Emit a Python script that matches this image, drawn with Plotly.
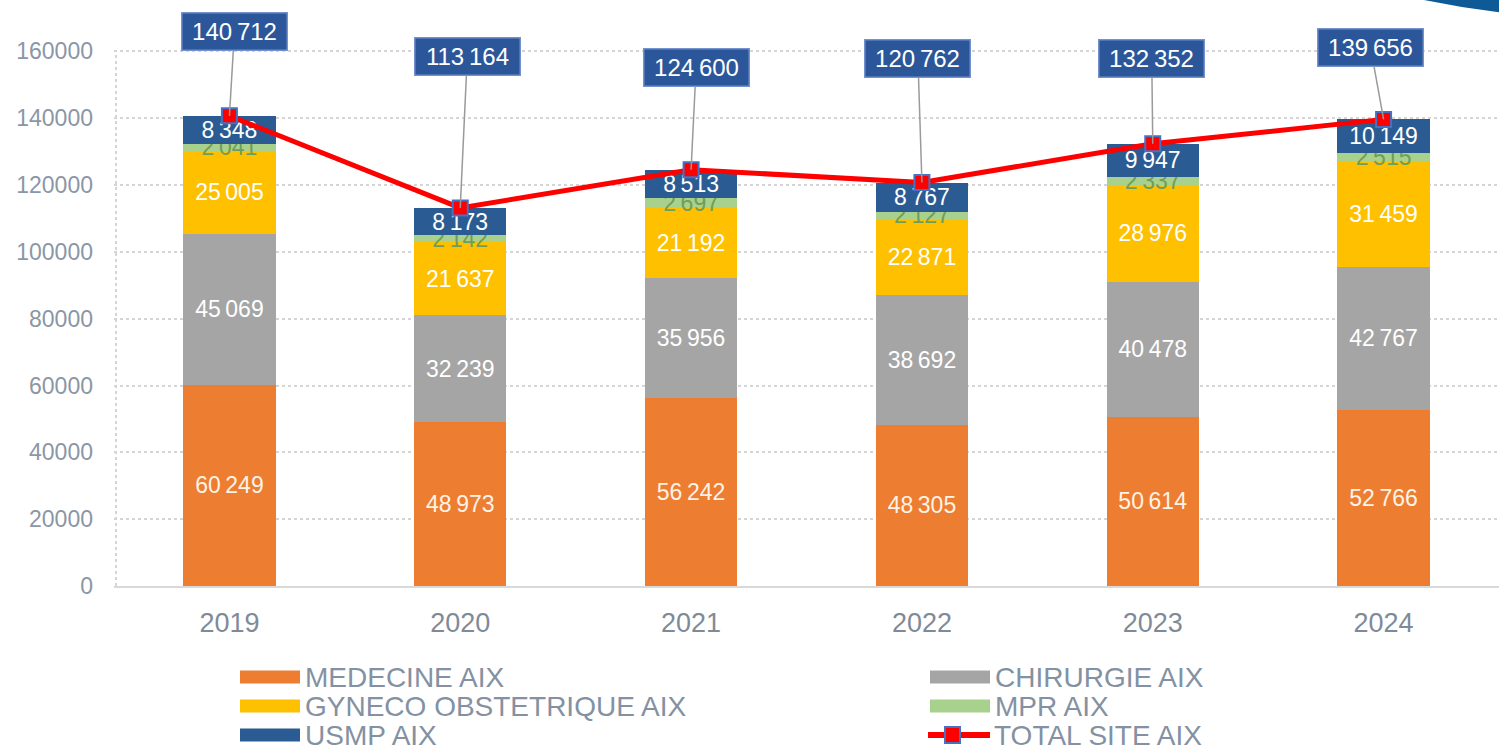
import plotly.graph_objects as go

years = ["2019", "2020", "2021", "2022", "2023", "2024"]
medecine = [60249, 48973, 56242, 48305, 50614, 52766]
chirurgie = [45069, 32239, 35956, 38692, 40478, 42767]
gyneco = [25005, 21637, 21192, 22871, 28976, 31459]
mpr = [2041, 2142, 2697, 2127, 2337, 2515]
usmp = [8348, 8173, 8513, 8767, 9947, 10149]
total = [140712, 113164, 124600, 120762, 132352, 139656]

series_names = ["MEDECINE AIX", "CHIRURGIE AIX", "GYNECO OBSTETRIQUE AIX", "MPR AIX", "USMP AIX"]
total_name = "TOTAL SITE AIX"

# styles
colors = ["#ED7D31", "#A5A5A5", "#FFC000", "#A9D18E", "#2A5C93"]
text_colors = ["#FFF3E6", "white", "white", "#6E9E58", "white"]
FONT = "Liberation Sans"
W, H = 1499, 751
ML, MR, MT, MB = 114, 0, 18, 165
PW, PH = W - ML - MR, H - MT - MB

def px(x):
    return (x - ML) / PW

def py(y):
    return (H - MB - y) / PH

fig = go.Figure()
for name, vals, c, tc in zip(series_names, [medecine, chirurgie, gyneco, mpr, usmp], colors, text_colors):
    fig.add_trace(go.Bar(
        x=years, y=vals, name=name, marker=dict(color=c, line=dict(width=0)),
        texttemplate="%{y:,}", textposition="inside", insidetextanchor="middle",
        textangle=0, textfont=dict(color=tc, size=23, family=FONT),
        showlegend=False, cliponaxis=False,
    ))

fig.add_trace(go.Scatter(
    x=years, y=total, name=total_name, mode="lines+markers",
    line=dict(color="#FF0000", width=5),
    marker=dict(symbol="square", size=15, color="#FF0000", line=dict(color="#4472C4", width=2)),
    showlegend=False, cliponaxis=False,
))

# total label boxes (offsets in pixels)
offsets = [(5, -84), (7, -151), (5, -102), (-4, -124), (-1, -85), (-13, -72)]
annotations = []
for i, (t, (ax, ay)) in enumerate(zip(total, offsets)):
    annotations.append(dict(
        x=i, y=t, xref="x", yref="y", text=f"{t:,}".replace(",", "\u2009"),
        showarrow=True, ax=ax, ay=ay, axref="pixel", ayref="pixel",
        arrowhead=0, arrowwidth=1.5, arrowcolor="#9A9A9A",
        bgcolor="#2B579A", bordercolor="#7391CC", borderwidth=1.5, borderpad=3,
        width=98, height=30,
        font=dict(color="white", size=24, family=FONT),
    ))

shapes = []
# manual legend
legend_items = [
    (series_names[0], colors[0], 240, 677), (series_names[1], colors[1], 930, 677),
    (series_names[2], colors[2], 240, 706), (series_names[3], colors[3], 930, 706),
    (series_names[4], colors[4], 240, 735), (total_name, None, 930, 735),
]
for name, c, x0, yc in legend_items:
    if c is not None:
        shapes.append(dict(type="rect", xref="paper", yref="paper",
                           x0=px(x0), x1=px(x0 + 60), y0=py(yc + 6.5), y1=py(yc - 6.5),
                           fillcolor=c, line=dict(width=0), layer="above"))
        tx = x0 + 63
    else:
        shapes.append(dict(type="line", xref="paper", yref="paper",
                           x0=px(x0 - 2), x1=px(x0 + 60), y0=py(yc), y1=py(yc),
                           line=dict(color="#FF0000", width=6), layer="above"))
        shapes.append(dict(type="rect", xref="paper", yref="paper",
                           x0=px(x0 + 15), x1=px(x0 + 30), y0=py(yc + 8), y1=py(yc - 8),
                           fillcolor="#FF0000", line=dict(color="#4472C4", width=2), layer="above"))
        tx = x0 + 62
    annotations.append(dict(x=px(tx), y=py(yc), xref="paper", yref="paper", xanchor="left",
                            yanchor="middle", text=name, showarrow=False,
                            font=dict(color="#8391A2", size=28, family=FONT)))

# dotted y-axis line
shapes.append(dict(type="line", xref="paper", yref="paper", x0=px(116), x1=px(116),
                   y0=py(586), y1=py(51), line=dict(color="#D5D5D5", width=2, dash="dot"), layer="below"))
# top-right decoration
cx, cy, r = 1600, -845, 865
shapes.append(dict(type="circle", xref="paper", yref="paper",
                   x0=px(cx - r), x1=px(cx + r), y0=py(cy + r), y1=py(cy - r),
                   fillcolor="#0E5A97", line=dict(color="white", width=4), layer="above"))

fig.update_layout(
    width=W, height=H, barmode="stack", bargap=0.6,
    margin=dict(l=ML, r=MR, t=MT, b=MB),
    paper_bgcolor="white", plot_bgcolor="white",
    separators=",\u2009", showlegend=False,
    uniformtext=dict(minsize=23, mode="show"),
    font=dict(family=FONT),
    xaxis=dict(type="category", range=[-0.5, 5.5], showgrid=False, showline=True,
               linecolor="#D9D9D9", linewidth=2, ticks="", ticklabelstandoff=12,
               tickfont=dict(size=27, color="#7F8A99", family=FONT)),
    yaxis=dict(range=[0, 170000], tickvals=[0, 20000, 40000, 60000, 80000, 100000, 120000, 140000, 160000],
               tickformat="d", showgrid=True, gridcolor="#D5D5D5", griddash="dot", gridwidth=1.5,
               zeroline=False, showline=False, ticks="", ticklabelstandoff=20,
               tickfont=dict(size=23, color="#8B96A6", family=FONT)),
    annotations=annotations, shapes=shapes,
)

fig.write_html("out.html", config={"displayModeBar": False},
               post_script="document.body.style.margin='0';document.body.style.overflow='hidden';")
